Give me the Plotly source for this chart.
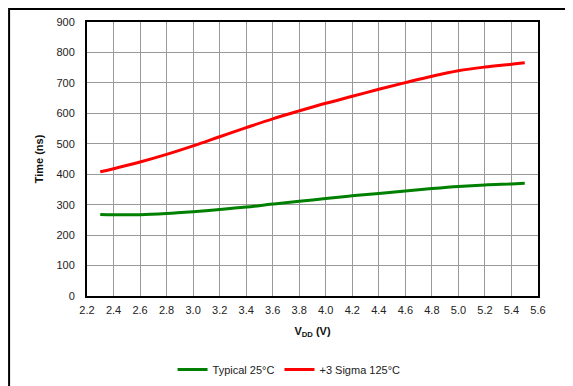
import plotly.graph_objects as go

vdd = [2.3, 2.4, 2.6, 2.8, 3.0, 3.2, 3.4, 3.6, 3.8, 4.0, 4.2, 4.4, 4.6, 4.8, 5.0, 5.2, 5.4, 5.5]
typical_25 = [268, 267, 267, 271, 277, 284, 292, 302, 311, 320, 329, 337, 345, 353, 360, 365, 368, 370]
sigma_125 = [408, 418, 440, 465, 493, 523, 553, 582, 608, 633, 656, 679, 701, 722, 740, 752, 761, 766]

x_ticks = [2.2, 2.4, 2.6, 2.8, 3.0, 3.2, 3.4, 3.6, 3.8, 4.0, 4.2, 4.4, 4.6, 4.8, 5.0, 5.2, 5.4, 5.6]
y_ticks = [0, 100, 200, 300, 400, 500, 600, 700, 800, 900]

fig = go.Figure()
fig.add_trace(go.Scatter(x=vdd, y=typical_25, mode="lines", name="Typical 25°C",
                         line=dict(color="#008000", width=3, shape="spline")))
fig.add_trace(go.Scatter(x=vdd, y=sigma_125, mode="lines", name="+3 Sigma 125°C",
                         line=dict(color="#ff0000", width=3, shape="spline")))

font = dict(family="Liberation Sans, Arial, sans-serif", size=11, color="#222222")

# page body has an 8px offset; margins compensate so the plot area lands where the reference has it
L, T, PW, PH = 79, 14, 451.5, 274
fig.update_layout(
    width=573, height=386,
    margin=dict(l=L, r=573 - L - PW, t=T, b=386 - T - PH, autoexpand=False),
    paper_bgcolor="white", plot_bgcolor="white",
    font=font,
    showlegend=True,
    legend=dict(orientation="h", x=0.448, y=-0.215, xanchor="center", yanchor="top",
                font=dict(size=11, color="#222222"), itemwidth=30, tracegroupgap=0),
    xaxis=dict(range=[2.2, 5.6], tickvals=x_ticks, ticktext=[f"{v:.1f}" for v in x_ticks],
               showgrid=True, gridcolor="#999999", gridwidth=1,
               showline=True, linecolor="black", linewidth=2, mirror=True,
               ticks="", zeroline=False, automargin=False, ticklabelstandoff=3,
               title=dict(text="<b>V<sub>DD</sub> (V)</b>", font=dict(size=11, color="#111111"), standoff=12)),
    yaxis=dict(range=[0, 900], tickvals=y_ticks,
               showgrid=True, gridcolor="#999999", gridwidth=1,
               showline=True, linecolor="black", linewidth=2, mirror=True,
               ticks="", zeroline=False, automargin=False, ticklabelstandoff=8,
               title=dict(text="<b>Time (ns)</b>", font=dict(size=11, color="#111111"), standoff=11)),
)

# outer frame of the figure (left and top edges visible, the rest runs off the page)
fig.add_shape(type="rect", xref="paper", yref="paper",
              x0=(1 - L) / PW, x1=1.3, y0=-0.6, y1=(T + PH - 1) / PH,
              line=dict(color="black", width=2), fillcolor="rgba(0,0,0,0)", layer="above")

fig.write_html("out.html")
